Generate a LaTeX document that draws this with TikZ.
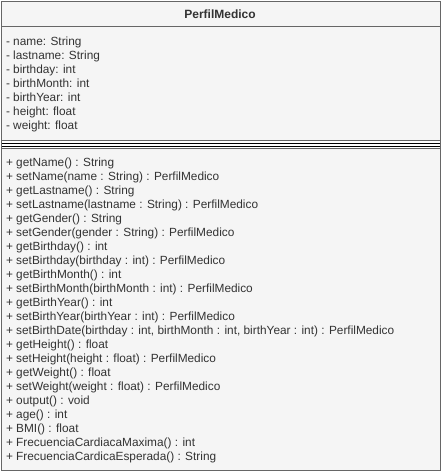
\documentclass[tikz,border=0pt]{standalone}
\usepackage{fontspec}
\setmainfont{Liberation Sans}
\definecolor{boxfill}{HTML}{F5F5F5}
\definecolor{boxline}{HTML}{666666}
\definecolor{txtcol}{HTML}{333333}
\tikzset{
  member/.style={anchor=base west, inner sep=0pt, outer sep=0pt, text=txtcol, font=\fontsize{11.85}{13}\selectfont},
  titletxt/.style={anchor=base, inner sep=0pt, text=txtcol, font=\fontsize{12}{13}\selectfont\bfseries},
  frame/.style={draw=boxline, line width=1pt, fill=boxfill},
  sepline/.style={draw=black, line width=1pt}
}
\begin{document}
\begin{tikzpicture}[x=1pt,y=-1pt]
\useasboundingbox (0,0) rectangle (441,474);
% outer class box
\path[frame] (1,1) rectangle (440,470);
% separator band
\fill[white] (1.5,140.7) rectangle (439.5,148.5);
\draw[boxline, line width=1pt] (1,26.5) -- (440,26.5);
\draw[boxline, line width=1pt] (1,140.7) -- (440,140.7);
\draw[boxline, line width=1pt] (1,148.5) -- (440,148.5);
\draw[sepline] (1,143.5) -- (440,143.5);
\draw[sepline] (1,146.2) -- (440,146.2);
\draw[boxline, line width=1pt] (1,1) rectangle (440,470);
% title
\node[titletxt] (title) at (220,18.3) {PerfilMedico};
% attributes
\foreach \t [count=\i from 0] in {
  - name: String,
  - lastname: String,
  - birthday: int,
  - birthMonth: int,
  - birthYear: int,
  - height: float,
  - weight: float}
  \node[member] (a\i) at (6,{45.3+14*\i}) {\t};
% methods
\node[member] (m0) at (6,166.3) {+ getName() : String};
\node[member] (m1) at (6,180.3) {+ setName(name : String) : PerfilMedico};
\node[member] (m2) at (6,194.3) {+ getLastname() : String};
\node[member] (m3) at (6,208.3) {+ setLastname(lastname : String) : PerfilMedico};
\node[member] (m4) at (6,222.3) {+ getGender() : String};
\node[member] (m5) at (6,236.3) {+ setGender(gender : String) : PerfilMedico};
\node[member] (m6) at (6,250.3) {+ getBirthday() : int};
\node[member] (m7) at (6,264.3) {+ setBirthday(birthday : int) : PerfilMedico};
\node[member] (m8) at (6,278.3) {+ getBirthMonth() : int};
\node[member] (m9) at (6,292.3) {+ setBirthMonth(birthMonth : int) : PerfilMedico};
\node[member] (m10) at (6,306.3) {+ getBirthYear() : int};
\node[member] (m11) at (6,320.3) {+ setBirthYear(birthYear : int) : PerfilMedico};
\node[member] (m12) at (6,334.3) {+ setBirthDate(birthday : int, birthMonth : int, birthYear : int) : PerfilMedico};
\node[member] (m13) at (6,348.3) {+ getHeight() : float};
\node[member] (m14) at (6,362.3) {+ setHeight(height : float) : PerfilMedico};
\node[member] (m15) at (6,376.3) {+ getWeight() : float};
\node[member] (m16) at (6,390.3) {+ setWeight(weight : float) : PerfilMedico};
\node[member] (m17) at (6,404.3) {+ output() : void};
\node[member] (m18) at (6,418.3) {+ age() : int};
\node[member] (m19) at (6,432.3) {+ BMI() : float};
\node[member] (m20) at (6,446.3) {+ FrecuenciaCardiacaMaxima() : int};
\node[member] (m21) at (6,460.3) {+ FrecuenciaCardicaEsperada() : String};
\end{tikzpicture}
\end{document}
